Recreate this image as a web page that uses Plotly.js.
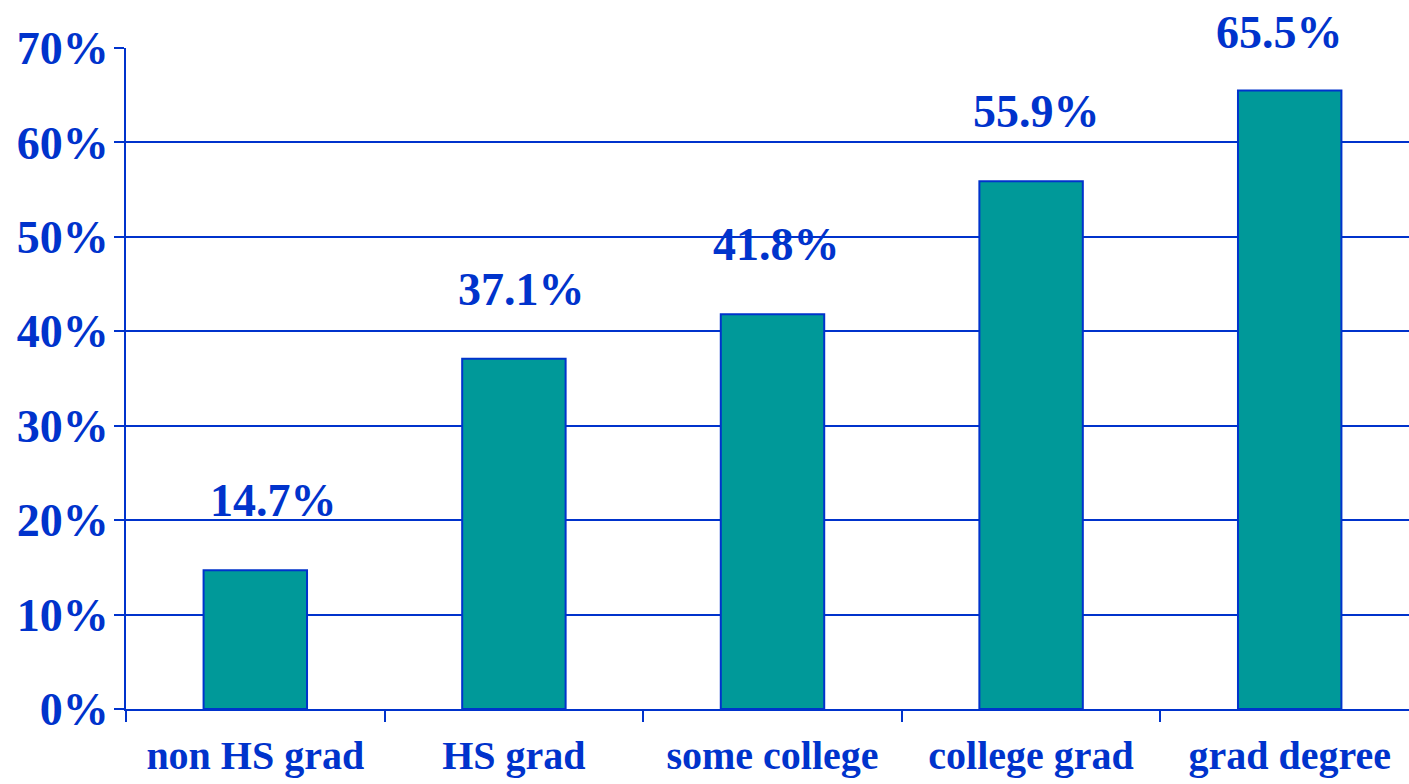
<!DOCTYPE html>
<html>
<head>
<meta charset="utf-8">
<script src="https://cdn.plot.ly/plotly-3.0.1.min.js"></script>
<style>
html,body{margin:0;padding:0;overflow:hidden;background:#fff;}
#chart{width:1420px;height:784px;}
</style>
</head>
<body>
<div id="chart"></div>
<script>
const categories = ["non HS grad", "HS grad", "some college", "college grad", "grad degree"];
const values = [14.7, 37.1, 41.8, 55.9, 65.5];
const valueLabels = ["14.7%", "37.1%", "41.8%", "55.9%", "65.5%"];
const yTickVals = [0, 10, 20, 30, 40, 50, 60, 70];
const yTickText = ["0%", "10%", "20%", "30%", "40%", "50%", "60%", "70%"];

const BLUE = "#0033CC";
const FONT = "'Times New Roman', 'Liberation Serif', serif";

// label placement offsets (pixels), matching the reference layout
const labelXShift = [18, 8, 4, 5, -10];
const labelYShift = [42, 42, 42, 42, 30];

const trace = {
  type: "bar",
  x: categories,
  y: values,
  marker: { color: "#009999", line: { color: BLUE, width: 2 } },
  hoverinfo: "none"
};

const annotations = categories.map((c, i) => ({
  x: c, y: values[i], xref: "x", yref: "y",
  text: "<b>" + valueLabels[i] + "</b>",
  showarrow: false, yanchor: "bottom",
  xshift: labelXShift[i], yshift: labelYShift[i],
  font: { family: FONT, size: 46, color: BLUE }
}));

const layout = {
  width: 1420, height: 784,
  margin: { l: 126, r: 1, t: 48, b: 75 },
  paper_bgcolor: "#fff", plot_bgcolor: "#fff",
  showlegend: false,
  bargap: 0.6,
  font: { family: FONT, color: BLUE },
  xaxis: {
    type: "category",
    tickson: "boundaries",
    ticks: "outside", ticklen: 11, tickwidth: 2, tickcolor: BLUE,
    showline: true, linecolor: BLUE, linewidth: 2,
    showgrid: false,
    tickfont: { family: FONT, size: 40, color: BLUE, weight: "bold" },
    ticklabelstandoff: 10
  },
  yaxis: {
    range: [0, 70],
    tickvals: yTickVals, ticktext: yTickText,
    ticks: "outside", ticklen: 10, tickwidth: 2, tickcolor: BLUE,
    showline: true, linecolor: BLUE, linewidth: 2,
    showgrid: true, gridcolor: BLUE, gridwidth: 2,
    zeroline: false,
    tickfont: { family: FONT, size: 46, color: BLUE, weight: "bold" },
    ticklabelstandoff: -4
  },
  annotations: annotations
};

Plotly.newPlot("chart", [trace], layout, { staticPlot: true, displayModeBar: false });
</script>
</body>
</html>
